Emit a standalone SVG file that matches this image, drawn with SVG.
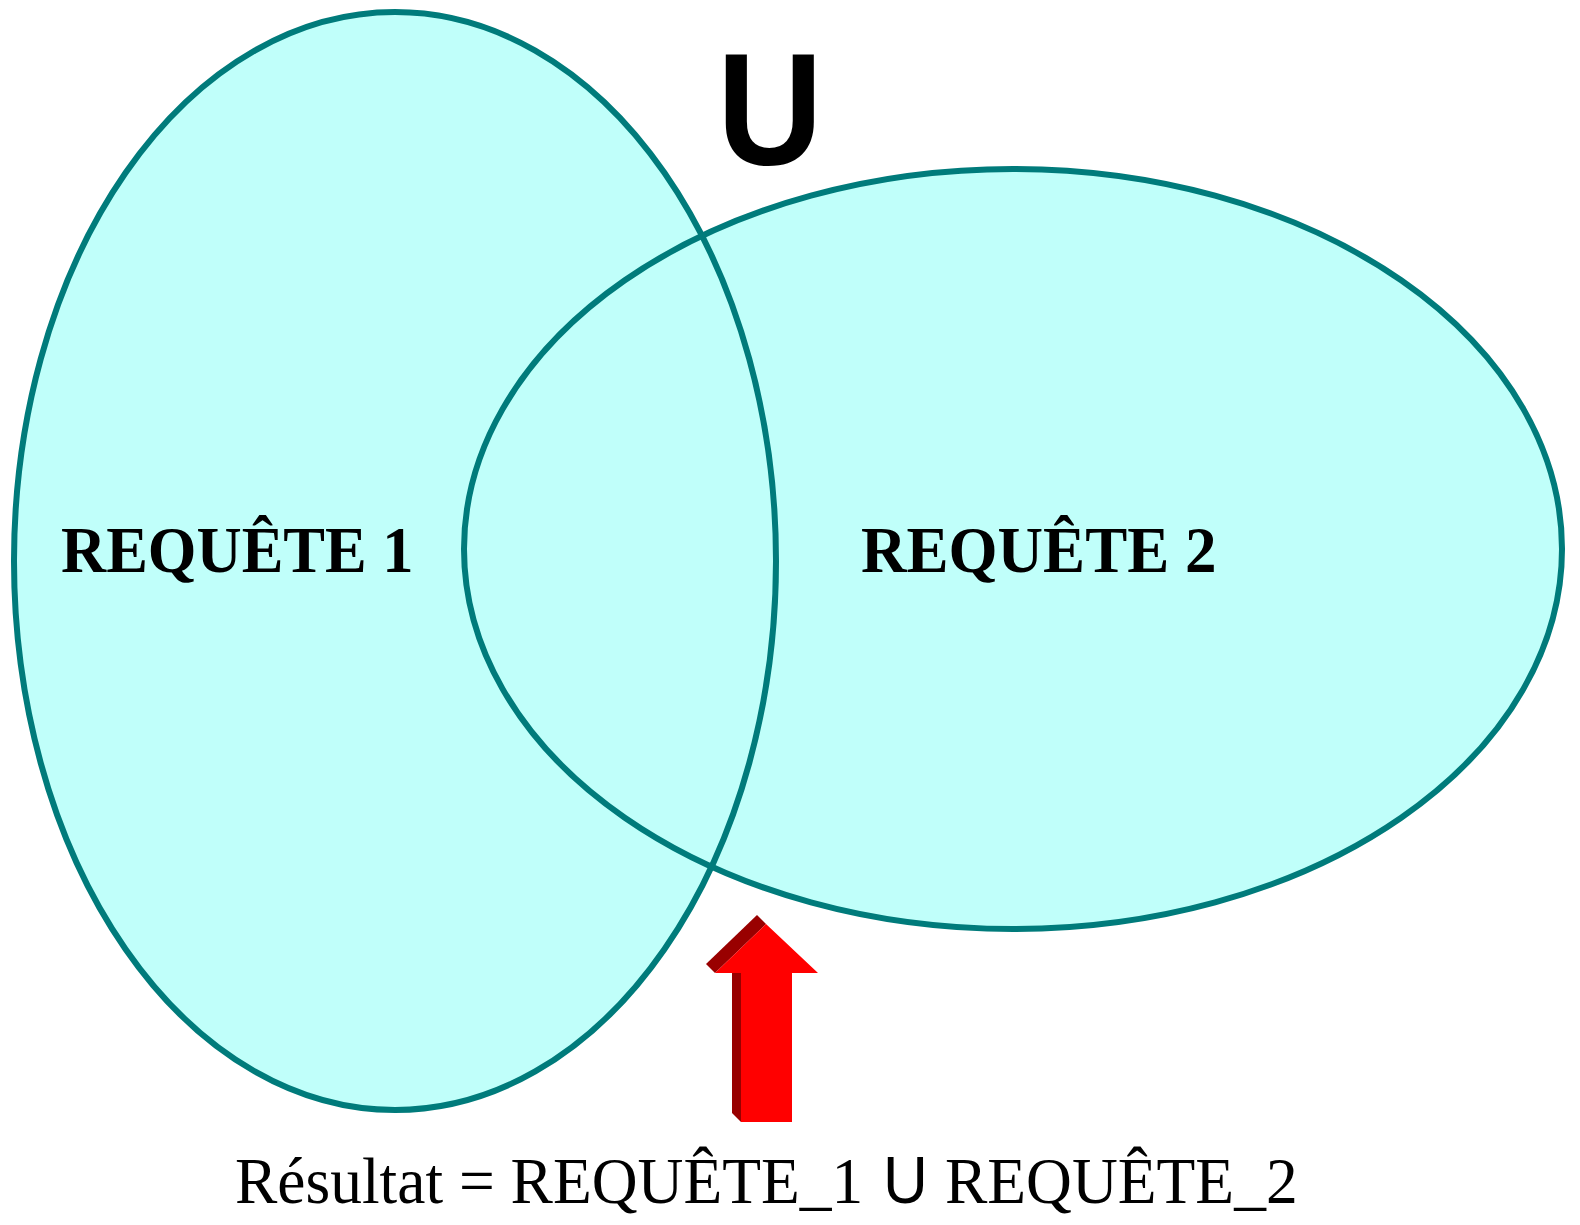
<svg xmlns="http://www.w3.org/2000/svg" width="1580" height="1225" viewBox="0 0 1580 1225">
<style>
.fill{fill:#C0FFFA;stroke:none}
.edge{fill:none;stroke:#007B7B;stroke-width:6}
.lbl{font-family:"Liberation Serif","Times New Roman",serif;font-weight:bold;font-size:65px;fill:#000}
.res{font-family:"Liberation Serif","Times New Roman",serif;font-size:66px;fill:#000}
.sans{font-family:"Liberation Sans",Arial,sans-serif}
</style>
<rect width="1580" height="1225" fill="#fff"/>
<g id="fills">
<ellipse class="fill" cx="395" cy="561" rx="381" ry="549"/>
<ellipse class="fill" cx="1013" cy="549" rx="549" ry="380"/>
</g>
<g id="requete1">
<ellipse class="edge" cx="395" cy="561" rx="381" ry="549"/>
<text class="lbl" transform="translate(61,572) scale(0.962,1)">REQUÊTE 1</text>
</g>
<g id="requete2">
<ellipse class="edge" cx="1013" cy="549" rx="549" ry="380"/>
<text class="lbl" transform="translate(861,572) scale(0.97,1)">REQUÊTE 2</text>
</g>
<g id="union">
<text class="sans" transform="translate(717,164) scale(0.915,1)" font-size="160" font-weight="bold">U</text>
</g>
<g id="connectors">
<g id="arrow">
<polygon fill="#990000" points="706,964 757,915 766,924 715,973"/>
<polygon fill="#990000" points="732,973 741,973 741,1122 732,1113"/>
<polygon fill="#FF0000" points="766,924 818,973 792,973 792,1122 741,1122 741,973 715,973"/>
</g>
</g>
<g id="result">
<text class="res" transform="translate(235,1203) scale(0.962,1)">Résultat = REQUÊTE_1</text>
<text class="res sans" transform="translate(883,1203) scale(0.94,1)">U</text>
<text class="res" transform="translate(945,1203) scale(0.962,1)">REQUÊTE_2</text>
</g>
</svg>
